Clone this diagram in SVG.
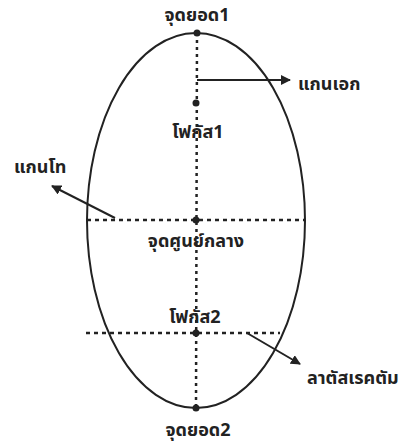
<svg xmlns="http://www.w3.org/2000/svg" width="409" height="446" viewBox="0 0 409 446">
<defs>
<style>
.lbl{font-family:"Noto Sans Thai","Noto Sans","DejaVu Sans","Liberation Sans",sans-serif;font-size:18px;font-weight:bold;fill:#222}
.dash{stroke:#222;stroke-width:2.5;fill:none}
.arr{stroke:#222;stroke-width:2;fill:none;marker-end:url(#ah)}
.dot{fill:#222}
</style>
<marker id="ah" viewBox="0 0 10 10" refX="9" refY="5" markerWidth="5" markerHeight="5" orient="auto" markerUnits="strokeWidth">
<path d="M0,0 L10,5 L0,10 z" fill="#222"/>
</marker>
</defs>
<rect width="409" height="446" fill="#fff"/>
<g id="ellipse">
<ellipse cx="196" cy="220.5" rx="109" ry="187.5" fill="none" stroke="#222" stroke-width="2"/>
</g>
<g id="connectors">
<line class="dash" x1="197" y1="33" x2="196" y2="408" stroke-dasharray="3 4"/>
<line class="dash" x1="87" y1="220" x2="304" y2="220" stroke-dasharray="4 4"/>
<line class="dash" x1="86" y1="333" x2="280" y2="333" stroke-dasharray="4 4"/>
<line class="arr" x1="197" y1="80" x2="290" y2="80"/>
<line class="arr" x1="115" y1="218" x2="52" y2="186"/>
<line class="arr" x1="247" y1="333" x2="300" y2="364"/>
</g>
<g id="vertex1"><circle class="dot" cx="197" cy="33" r="3.5"/><text class="lbl" x="197" y="21" text-anchor="middle">จุดยอด1</text></g>
<g id="focus1"><circle class="dot" cx="196" cy="103" r="3.5"/><text class="lbl" x="198" y="138" text-anchor="middle">โฟกัส1</text></g>
<g id="center"><circle class="dot" cx="196" cy="220" r="3.5"/><text class="lbl" x="196" y="247" text-anchor="middle">จุดศูนย์กลาง</text></g>
<g id="focus2"><circle class="dot" cx="196" cy="333" r="3.5"/><text class="lbl" x="195" y="323" text-anchor="middle">โฟกัส2</text></g>
<g id="vertex2"><circle class="dot" cx="196" cy="408" r="3.5"/><text class="lbl" x="198" y="436" text-anchor="middle">จุดยอด2</text></g>
<g id="major-axis"><text class="lbl" x="298" y="90">แกนเอก</text></g>
<g id="minor-axis"><text class="lbl" x="14" y="173">แกนโท</text></g>
<g id="latus-rectum"><text class="lbl" x="307" y="384">ลาตัสเรคตัม</text></g>
</svg>
